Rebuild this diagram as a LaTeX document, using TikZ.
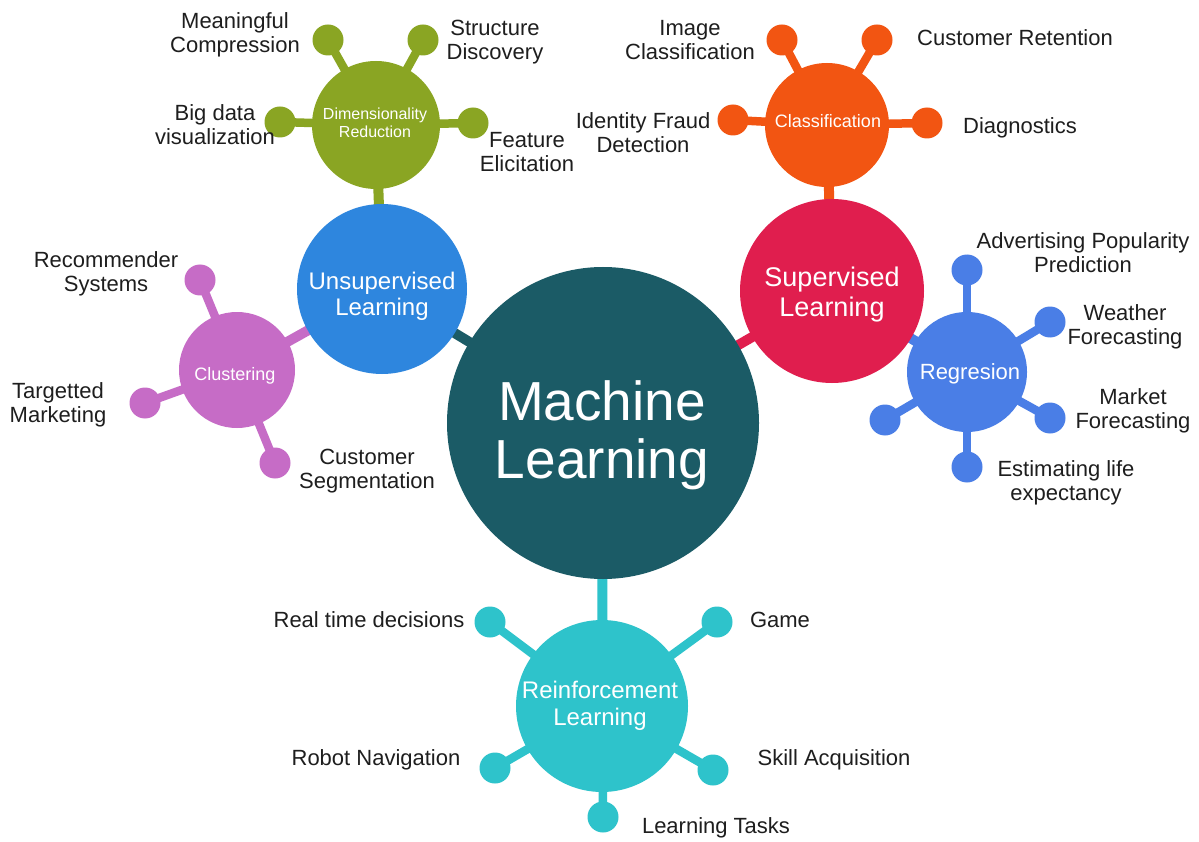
\documentclass[tikz,border=0pt]{standalone}
\usepackage{fontspec}
\setmainfont{Liberation Sans}
\usetikzlibrary{backgrounds}

\definecolor{mlteal}{HTML}{1B5B66}
\definecolor{unsupblue}{HTML}{2E86DE}
\definecolor{supred}{HTML}{E01E4E}
\definecolor{dimgreen}{HTML}{8AA523}
\definecolor{classorange}{HTML}{F25512}
\definecolor{regblue}{HTML}{4A7EE6}
\definecolor{clusterpink}{HTML}{C66CC6}
\definecolor{reinfcyan}{HTML}{2EC3CB}
\definecolor{tagcol}{HTML}{1E1E1E}

\begin{document}
\begin{tikzpicture}[x=1pt,y=-1pt,
    hub/.style={circle,fill=#1,inner sep=0pt},
    knob/.style={circle,fill=#1,inner sep=0pt,minimum size=31pt},
    link/.style={draw=#1,line width=10pt},
    twig/.style={draw=#1,line width=8.5pt},
    tag/.style={align=center,text=tagcol,font=\fontsize{22}{24}\selectfont},
    hubtext/.style={align=center,text=white,inner sep=0pt},
  ]
  \useasboundingbox (0,0) rectangle (1199,842);

  \node[hub=mlteal,minimum size=312pt]      (ml)    at (603,423) {};
  \node[hub=unsupblue,minimum size=170pt]   (unsup) at (382,289) {};
  \node[hub=supred,minimum size=184pt]      (sup)   at (832,291) {};
  \node[hub=dimgreen,minimum size=128pt]    (dim)   at (376,125) {};
  \node[hub=classorange,minimum size=124pt] (class) at (827,125) {};
  \node[hub=regblue,minimum size=120pt]     (reg)   at (967,372) {};
  \node[hub=clusterpink,minimum size=116pt] (clus)  at (237,370) {};
  \node[hub=reinfcyan,minimum size=172pt]   (reinf) at (602,706) {};

  \node[hubtext,font=\fontsize{55}{58}\selectfont] (mltxt) at (602,435) {Machine\\Learning};
  \node[hubtext,font=\fontsize{24}{26}\selectfont] (unsuptxt) at (382,296) {Unsupervised\\Learning};
  \node[hubtext,font=\fontsize{27}{30}\selectfont] (suptxt) at (832,295) {Supervised\\Learning};
  \node[hubtext,font=\fontsize{16}{18}\selectfont] (dimtxt) at (375,123) {Dimensionality\\Reduction};
  \node[hubtext,font=\fontsize{18}{20}\selectfont] (classtxt) at (828,121) {Classification};
  \node[hubtext,font=\fontsize{22}{24}\selectfont] (regtxt) at (970,374) {Regresion};
  \node[hubtext,font=\fontsize{18}{20}\selectfont] (clustxt) at (235,376) {Clustering};
  \node[hubtext,font=\fontsize{24}{27}\selectfont] (reinftxt) at (600,706) {Reinforcement\\Learning};

  \node[knob=dimgreen] (dimA) at (328,40) {};
  \node[knob=dimgreen] (dimB) at (423,40) {};
  \node[knob=dimgreen] (dimC) at (280,122) {};
  \node[knob=dimgreen] (dimD) at (473,123) {};
  \node[knob=classorange] (classA) at (782,40) {};
  \node[knob=classorange] (classB) at (877,40) {};
  \node[knob=classorange] (classC) at (733,120) {};
  \node[knob=classorange] (classD) at (927,123) {};
  \node[knob=regblue] (regA) at (967,270) {};
  \node[knob=regblue] (regB) at (1050,322) {};
  \node[knob=regblue] (regC) at (1050,418) {};
  \node[knob=regblue] (regD) at (967,467) {};
  \node[knob=regblue] (regE) at (885,420) {};
  \node[knob=clusterpink] (clusA) at (200,280) {};
  \node[knob=clusterpink] (clusB) at (145,403) {};
  \node[knob=clusterpink] (clusC) at (275,463) {};
  \node[knob=reinfcyan] (reinfA) at (490,622) {};
  \node[knob=reinfcyan] (reinfB) at (717,622) {};
  \node[knob=reinfcyan] (reinfC) at (495,768) {};
  \node[knob=reinfcyan] (reinfD) at (713,770) {};
  \node[knob=reinfcyan] (reinfE) at (603,817) {};

  \node[tag] (tCompress) at (235,35) {Meaningful\\Compression};
  \node[tag] (tStruct) at (495,42) {Structure\\Discovery};
  \node[tag] (tBigdata) at (215,125) {Big data\\visualization};
  \node[tag] (tFeature) at (527,152) {Feature\\Elicitation};
  \node[tag] (tImage) at (690,40) {Image\\Classification};
  \node[tag] (tRetain) at (1015,38) {Customer Retention};
  \node[tag] (tFraud) at (643,133) {Identity Fraud\\Detection};
  \node[tag] (tDiag) at (1020,128) {Diagnostics};
  \node[tag] (tAdvert) at (1083,253) {Advertising Popularity\\Prediction};
  \node[tag] (tWeather) at (1125,327) {Weather\\Forecasting};
  \node[tag] (tMarket) at (1133,411) {Market\\Forecasting};
  \node[tag] (tLife) at (1066,483) {Estimating life\\expectancy};
  \node[tag] (tRecom) at (106,274) {Recommender\\Systems};
  \node[tag] (tTarget) at (58,405) {Targetted\\Marketing};
  \node[tag] (tSegment) at (367,471) {Customer\\Segmentation};
  \node[tag] (tRealtime) at (369,620) {Real time decisions};
  \node[tag] (tGame) at (780,620) {Game};
  \node[tag] (tRobot) at (376,760) {Robot Navigation};
  \node[tag] (tSkill) at (834,760) {Skill Acquisition};
  \node[tag] (tTasks) at (716,828) {Learning Tasks};

  \begin{scope}[on background layer]
    \fill[white] (0,0) rectangle (1199,842);
    \draw[link=mlteal] (ml.center) -- (unsup.center);
    \draw[link=supred] (ml.center) -- (sup.center);
    \draw[link=reinfcyan] (ml.center) -- (reinf.center);
    \draw[link=dimgreen] (unsup.center) -- (dim.center);
    \draw[link=clusterpink] (unsup.center) -- (clus.center);
    \draw[link=classorange] (sup.center) -- (class.center);
    \draw[link=regblue] (sup.center) -- (reg.center);
    \foreach \k in {dimA,dimB,dimC,dimD}
      \draw[twig=dimgreen] (dim.center) -- (\k.center);
    \foreach \k in {classA,classB,classC,classD}
      \draw[twig=classorange] (class.center) -- (\k.center);
    \foreach \k in {regA,regB,regC,regD,regE}
      \draw[twig=regblue] (reg.center) -- (\k.center);
    \foreach \k in {clusA,clusB,clusC}
      \draw[twig=clusterpink] (clus.center) -- (\k.center);
    \foreach \k in {reinfA,reinfB,reinfC,reinfD,reinfE}
      \draw[twig=reinfcyan] (reinf.center) -- (\k.center);
  \end{scope}
\end{tikzpicture}
\end{document}
